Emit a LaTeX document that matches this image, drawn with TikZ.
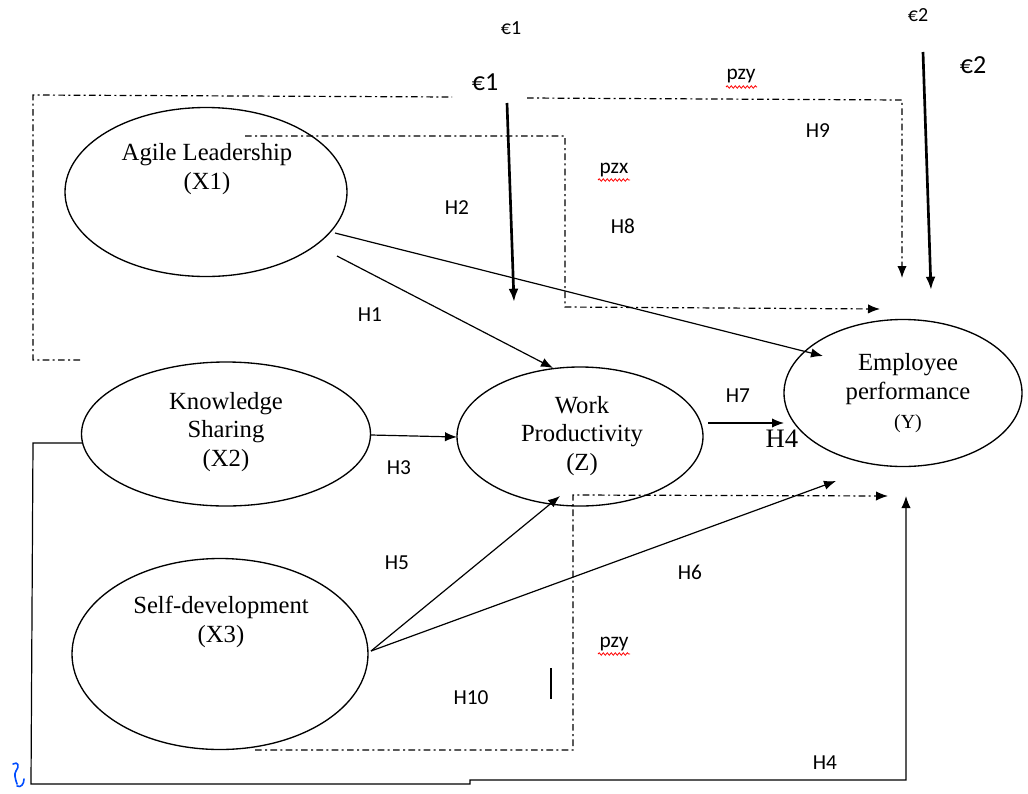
\documentclass[tikz,border=0pt]{standalone}
\usepackage{fontspec}
\setmainfont{Liberation Serif}
\newfontfamily\calfont{Carlito}
\usetikzlibrary{arrows.meta,shapes.geometric,decorations.pathmorphing}
\tikzset{
  ell/.style={draw, ellipse, line width=1pt, inner sep=0pt},
  lbl/.style={font=\fontsize{18.5}{21.5}\selectfont, align=center, inner sep=0pt},
  hl/.style={font=\calfont\fontsize{16}{18}\selectfont, inner sep=0pt},
  eps/.style={font=\calfont\fontsize{15}{17}\selectfont, inner sep=0pt},
  epsbig/.style={font=\calfont\fontsize{19.5}{22}\selectfont, inner sep=0pt},
  pz/.style={font=\calfont\fontsize{16}{18}\selectfont, inner sep=0pt},
  arr/.style={-{Latex[length=9pt,width=7pt]}, line width=0.9pt},
  heavy/.style={-{Latex[length=10pt,width=7.5pt]}, line width=2pt},
  dd/.style={dash pattern=on 5pt off 2.5pt on 1.5pt off 2.5pt, line width=0.9pt},
  ddarr/.style={dd, -{Latex[length=9pt,width=7pt]}},
  wavy/.style={red, line width=0.6pt, decorate, decoration={snake, amplitude=0.9pt, segment length=3pt}}
}
\begin{document}
\begin{tikzpicture}[x=0.75pt,y=-0.75pt]
\useasboundingbox (0,0) rectangle (1028,793);
\fill[white] (0,0) rectangle (1028,793);

% ellipses
\node[ell, minimum width=211.5pt, minimum height=126.75pt] (agile) at (206,192) {};
\node[ell, minimum width=216.75pt, minimum height=108pt] (ks) at (226,434) {};
\node[ell, minimum width=222pt, minimum height=143.25pt] (sd) at (220,654) {};
\node[ell, minimum width=184.5pt, minimum height=104.25pt] (wp) at (580,436.5) {};
\node[ell, minimum width=178.5pt, minimum height=110.25pt] (ep) at (903,393) {};

% ellipse texts
\node[lbl] (agilet) at (207,169) {Agile Leadership\\(X1)};
\node[lbl] (kst) at (226,432) {Knowledge\\Sharing\\(X2)};
\node[lbl] (sdt) at (221,622) {Self-development\\(X3)};
\node[lbl] (wpt) at (582,436) {Work\\Productivity\\(Z)};
\node[lbl] (ept) at (908,393) {Employee\\performance\\{\fontsize{15}{17}\selectfont(Y)}};

% epsilon labels
\node[eps] (e1s) at (511,28) {€1};
\node[epsbig] (e1b) at (485,82) {€1};
\node[eps] (e2s) at (918,15) {€2};
\node[epsbig] (e2b) at (973,65) {€2};

% named coordinates
\coordinate (e1a) at (507,103);
\coordinate (e1z) at (514,302);
\coordinate (e2a) at (923,52);
\coordinate (e2z) at (931,290);
\coordinate (h2a) at (335,233);
\coordinate (h2z) at (823,356);
\coordinate (h1a) at (337,256);
\coordinate (h1z) at (553,368);
\coordinate (ksa) at (371,435);
\coordinate (wpin) at (457,437);
\coordinate (wpa) at (708,423);
\coordinate (epin) at (784,423);
\coordinate (sda) at (371,651);
\coordinate (wpb) at (560,496);
\coordinate (epb) at (836,481);

% heavy error arrows
\draw[heavy] (e1a) -- (e1z);
\draw[heavy] (e2a) -- (e2z);

% solid paths
\draw[arr] (h2a) -- (h2z);
\draw[arr] (h1a) -- (h1z);
\draw[arr] (ksa) -- (wpin);
\draw[arr] (wpa) -- (epin);
\draw[arr] (sda) -- (wpb);
\draw[arr] (sda) -- (epb);

% dash-dot mediation paths
\draw[dd] (80,360) -- (33,360) -- (33,95) -- (452,97);
\draw[ddarr] (527,98) -- (902,100) -- (902,278);
\draw[ddarr] (245,136) -- (565,136) -- (565,307) -- (880,309);
\draw[ddarr] (255,750) -- (573,750) -- (573,495) -- (888,496);

% long solid H4 path
\draw[arr] (82,443) -- (33,443) -- (31,784) -- (470,784) -- (470,780) -- (906,780) -- (906,496);

% small stray vertical bar
\draw[line width=1.2pt] (551,668) -- (551,699);

% hypothesis labels
\node[hl] (h1) at (370,315) {H1};
\node[hl] (h2) at (457,208) {H2};
\node[hl] (h3) at (399,468) {H3};
\node[hl] (h5) at (397,563) {H5};
\node[hl] (h6) at (690,572) {H6};
\node[hl] (h7) at (738,396) {H7};
\node[hl] (h8) at (623,226) {H8};
\node[hl] (h9) at (818,131) {H9};
\node[hl] (h10) at (471,698) {H10};
\node[hl] (h4b) at (825,763) {H4};
\node[font=\fontsize{20}{22}\selectfont, inner sep=0pt] (h4s) at (782,439) {H4};

% pz labels with red wavy underline
\node[pz] (pzy1) at (741,76) {pzy};
\node[pz] (pzx) at (614,170) {pzx};
\node[pz] (pzy2) at (614,644) {pzy};
\draw[wavy] (726,87) -- (757,87);
\draw[wavy] (598,180) -- (630,180);
\draw[wavy] (598,654) -- (630,654);

% blue anchor glyph
\draw[blue!70!cyan, line width=1.2pt, line cap=round] (13,764) .. controls (18,761) and (20,766) .. (16,771) .. controls (14,774) and (15,778) .. (17,784);
\draw[blue!70!cyan, line width=1.2pt, line cap=round] (17,786) .. controls (21,788) and (24,784) .. (24,779);
\end{tikzpicture}
\end{document}
